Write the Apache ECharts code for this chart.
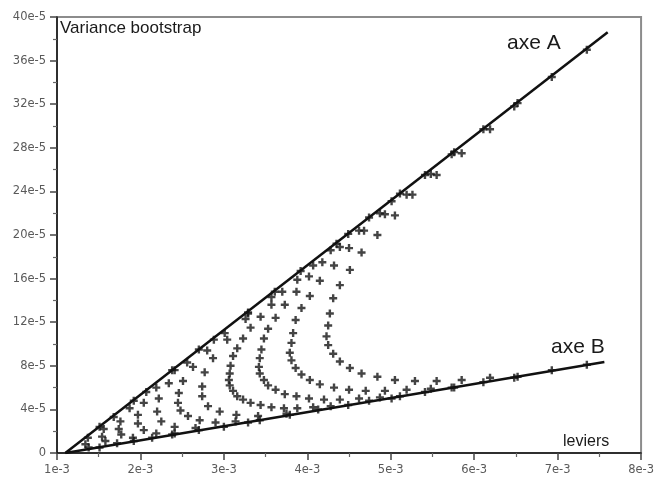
<!DOCTYPE html>
<html>
<head>
<meta charset="utf-8">
<script src="https://cdn.jsdelivr.net/npm/echarts@6/dist/echarts.min.js"></script>
<style>
  html, body { margin: 0; padding: 0; background: #fff; }
  #chart { width: 657px; height: 483px; }
</style>
</head>
<body>
<div id="chart"></div>
<script>
// Leviers are stored in units of 1e-3, bootstrap variances in units of 1e-5.

// The two limiting axes of the cloud
const axeA = [[1.1, 0], [7.6, 38.6]];
const axeB = [[1.1, 0], [7.56, 8.35]];

// Bootstrap points, one array per curve (outermost first)
const arc1 = [[7.35,37.0],[6.93,34.5],[6.52,32.1],[6.19,29.7],[5.85,27.5],[5.55,25.5],[5.26,23.7],[5.05,21.8],[4.84,20.0],[4.65,18.4],[4.51,16.8],[4.39,15.4],[4.31,14.2],[4.27,12.8],[4.25,11.7],[4.23,10.7],[4.25,9.9],[4.31,9.1],[4.39,8.4],[4.51,7.8],[4.65,7.3],[4.84,7.0],[5.05,6.7],[5.29,6.6],[5.55,6.6],[5.85,6.7],[6.19,6.9],[6.52,7.0],[6.93,7.6],[7.35,8.1]];
const arc2 = [[6.48,31.8],[6.11,29.7],[5.76,27.6],[5.48,25.6],[5.19,23.7],[4.93,21.9],[4.68,20.4],[4.50,18.8],[4.32,17.2],[4.15,15.8],[4.03,14.4],[3.93,13.3],[3.86,12.2],[3.83,11.0],[3.81,10.1],[3.79,9.2],[3.81,8.5],[3.86,7.8],[3.93,7.2],[4.03,6.7],[4.15,6.3],[4.32,6.0],[4.50,5.8],[4.70,5.7],[4.93,5.7],[5.19,5.8],[5.48,5.9],[5.76,6.0],[6.11,6.5],[6.48,6.9]];
const arc3 = [[5.73,27.4],[5.41,25.5],[5.11,23.8],[4.87,22.0],[4.62,20.4],[4.39,18.9],[4.18,17.5],[4.02,16.2],[3.87,14.8],[3.73,13.6],[3.62,12.4],[3.53,11.4],[3.48,10.5],[3.45,9.5],[3.43,8.7],[3.42,7.9],[3.43,7.3],[3.48,6.7],[3.53,6.2],[3.62,5.8],[3.73,5.4],[3.87,5.2],[4.02,5.0],[4.20,4.9],[4.39,4.9],[4.62,5.0],[4.87,5.1],[5.11,5.2],[5.41,5.6],[5.73,6.0]];
const arc4 = [[5.01,23.1],[4.74,21.6],[4.49,20.1],[4.28,18.6],[4.07,17.2],[3.88,15.9],[3.70,14.8],[3.57,13.6],[3.44,12.5],[3.32,11.5],[3.23,10.5],[3.16,9.6],[3.11,8.9],[3.08,8.0],[3.07,7.3],[3.06,6.7],[3.07,6.2],[3.11,5.7],[3.16,5.2],[3.23,4.9],[3.32,4.6],[3.44,4.4],[3.57,4.2],[3.72,4.1],[3.88,4.1],[4.07,4.2],[4.28,4.3],[4.49,4.4],[4.74,4.8],[5.01,5.0]];
const arc5 = [[4.35,19.2],[3.92,16.7],[3.57,14.3],[3.26,12.3],[3.04,10.4],[2.87,8.7],[2.77,7.4],[2.74,6.1],[2.74,5.2],[2.81,4.3],[2.95,3.8],[3.15,3.5],[3.41,3.4],[3.75,3.6],[4.13,4.0]];
const arc6 = [[3.61,14.8],[3.29,12.8],[3.01,11.0],[2.80,9.4],[2.63,7.9],[2.51,6.6],[2.46,5.5],[2.45,4.6],[2.48,3.9],[2.57,3.4],[2.71,3.0],[2.90,2.8],[3.14,2.9],[3.43,3.0],[3.79,3.5]];
const arc7 = [[3.29,12.9],[2.88,10.4],[2.56,8.3],[2.34,6.4],[2.22,5.0],[2.20,3.8],[2.25,2.9],[2.41,2.4],[2.66,2.3],[3.00,2.4],[3.29,2.8]];
const arc8 = [[2.70,9.5],[2.41,7.6],[2.19,6.0],[2.04,4.6],[1.97,3.5],[1.97,2.7],[2.04,2.1],[2.19,1.8],[2.41,1.8],[2.70,2.1]];
const arc9 = [[2.38,7.6],[2.07,5.6],[1.87,4.1],[1.76,2.9],[1.74,2.2],[1.77,1.7],[1.91,1.4],[2.14,1.4],[2.38,1.7]];
const arc10 = [[1.92,4.8],[1.68,3.3],[1.56,2.2],[1.54,1.5],[1.58,1.1],[1.72,0.9],[1.92,1.1]];
const arc11 = [[1.51,2.4],[1.37,1.4],[1.34,0.8],[1.38,0.5],[1.51,0.5]];

const arcs = [arc1, arc2, arc3, arc4, arc5, arc6, arc7, arc8, arc9, arc10, arc11];
const points = [].concat(...arcs);

// "+" marker as a filled outline
const plus = 'path://M2.8,0H5.2V2.8H8V5.2H5.2V8H2.8V5.2H0V2.8H2.8Z';

const labelFont = { color: '#5a5a5a', fontSize: 11.5, fontFamily: '"DejaVu Sans", sans-serif' };
const axisBase = {
  type: 'value',
  axisLine: { show: true, onZero: false, lineStyle: { color: '#111', width: 1.5 } },
  axisTick: { show: true, length: 7, lineStyle: { color: '#444', width: 1.5 } },
  minorTick: { show: true, splitNumber: 2, length: 4, lineStyle: { color: '#666', width: 1.2 } },
  splitLine: { show: false },
  minorSplitLine: { show: false }
};

const chart = echarts.init(document.getElementById('chart'), null, { renderer: 'canvas' });
chart.setOption({
  animation: false,
  backgroundColor: '#fff',
  grid: { left: 57, right: 15, top: 17, bottom: 30, show: true, borderColor: '#8c8c8c', borderWidth: 2, backgroundColor: 'transparent' },
  xAxis: Object.assign({}, axisBase, {
    min: 1, max: 8, interval: 1,
    axisLabel: Object.assign({ margin: 11, formatter: v => v + 'e-3' }, labelFont)
  }),
  yAxis: Object.assign({}, axisBase, {
    min: 0, max: 40, interval: 4,
    axisLabel: Object.assign({ margin: 11, formatter: v => (v === 0 ? '0' : v + 'e-5') }, labelFont)
  }),
  graphic: [
    { type: 'text', left: 60, top: 20, style: { text: 'Variance bootstrap', font: '17px "Liberation Sans", Arial, sans-serif', fill: '#1a1a1a' } },
    { type: 'text', left: 507, top: 33, style: { text: 'axe A', font: '21px "Liberation Sans", Arial, sans-serif', fill: '#1a1a1a' } },
    { type: 'text', left: 551, top: 337, style: { text: 'axe B', font: '21px "Liberation Sans", Arial, sans-serif', fill: '#1a1a1a' } },
    { type: 'text', left: 563, top: 434, style: { text: 'leviers', font: '16px "Liberation Sans", Arial, sans-serif', fill: '#1a1a1a' } }
  ],
  series: [
    { type: 'line', data: axeA, symbol: 'none', silent: true, lineStyle: { color: '#111', width: 2.5 } },
    { type: 'line', data: axeB, symbol: 'none', silent: true, lineStyle: { color: '#111', width: 2.5 } },
    { type: 'scatter', data: points, symbol: plus, symbolSize: 8, itemStyle: { color: '#151515' }, silent: true }
  ]
});
</script>
</body>
</html>
